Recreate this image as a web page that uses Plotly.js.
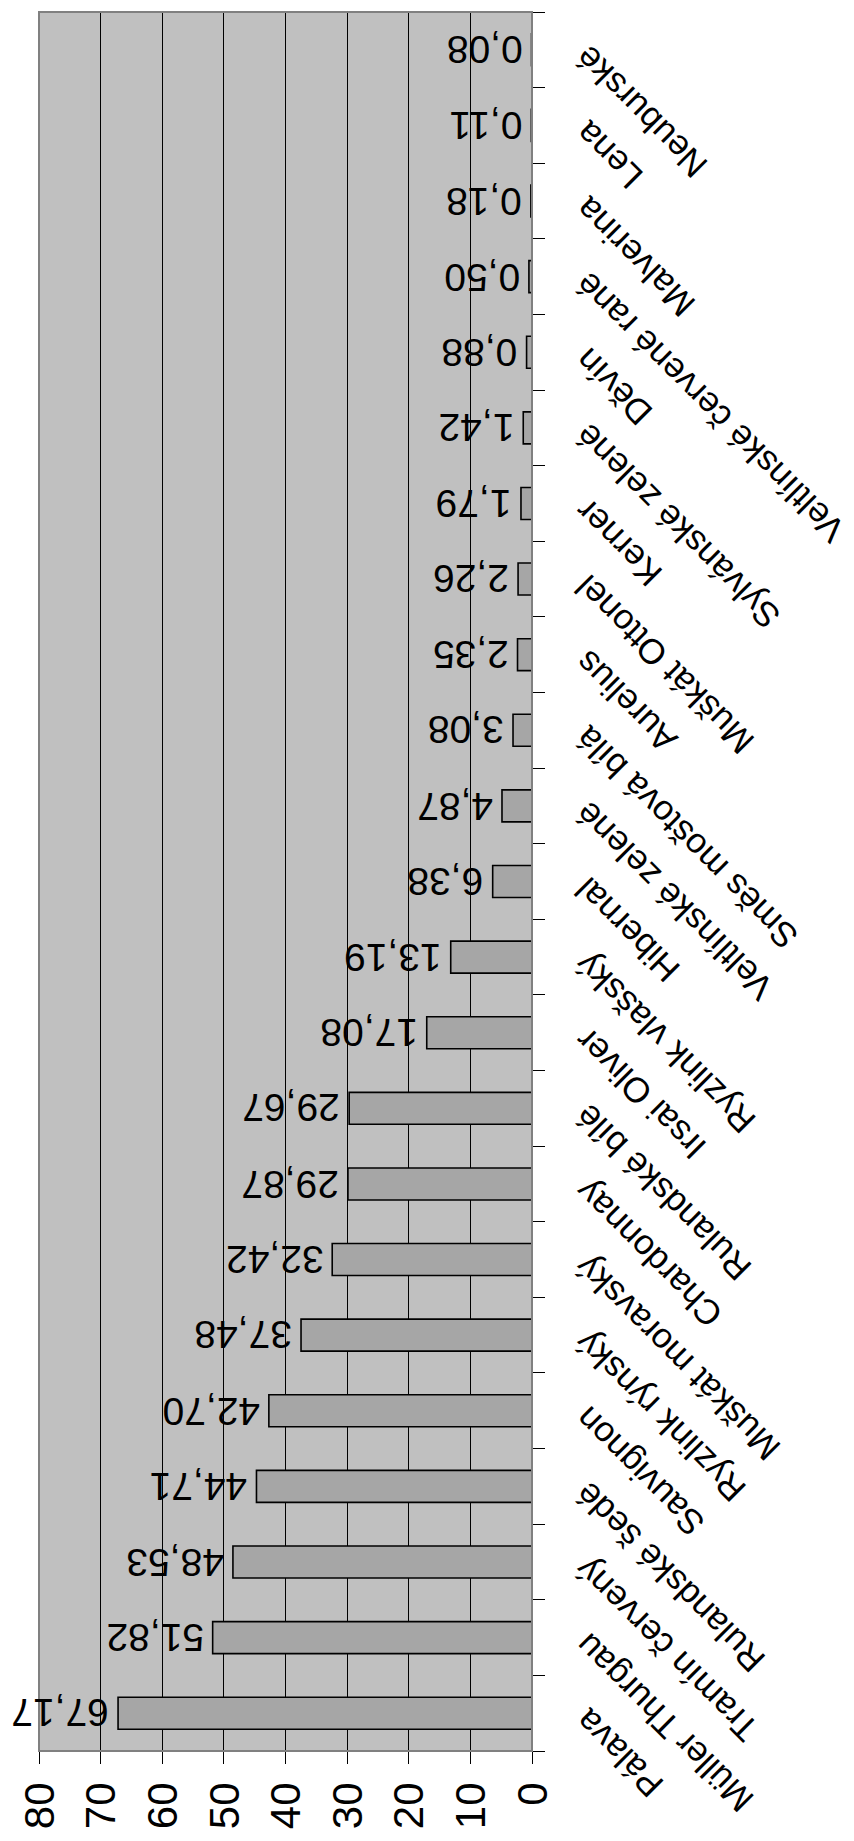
<!DOCTYPE html>
<html>
<head>
<meta charset="utf-8">
<script src="https://cdn.plot.ly/plotly-3.0.1.min.js"></script>
<style>
  html, body { margin: 0; padding: 0; background: #ffffff; overflow: hidden; }
  #wrap { position: relative; width: 854px; height: 1841px; overflow: hidden; }
  #chart {
    position: absolute; left: 0; top: 0;
    width: 1841px; height: 854px;
    transform-origin: 0 0;
    transform: translateY(1841px) rotate(-90deg);
  }
</style>
</head>
<body>
<div id="wrap"><div id="chart"></div></div>
<script>
// Odrůdy (categories), in order from the first bar (bottom) to the last (top)
var categories = [
  "Pálava", "Müller Thurgau", "Tramín červený", "Rulandské šedé", "Sauvignon",
  "Ryzlink rýnský", "Muškát moravský", "Chardonnay", "Rulandské bílé", "Irsai Oliver",
  "Ryzlink vlašský", "Hibernal", "Veltlínské zelené", "Směs moštová bílá", "Aurelius",
  "Muškát Ottonel", "Kerner", "Sylvánské zelené", "Děvín", "Veltlínské červené rané",
  "Malverina", "Lena", "Neuburské"
];
var values = [
  67.17, 51.82, 48.53, 44.71, 42.70,
  37.48, 32.42, 29.87, 29.67, 17.08,
  13.19, 6.38, 4.87, 3.08, 2.35,
  2.26, 1.79, 1.42, 0.88, 0.50,
  0.18, 0.11, 0.08
];
var valueTicks = [0, 10, 20, 30, 40, 50, 60, 70, 80];

var FONT = "'Liberation Sans', Arial, sans-serif";

function fmt(v) { return v.toFixed(2).replace(".", ","); }

var trace = {
  type: "bar",
  x: categories,
  y: values,
  marker: { color: "#a6a6a6", line: { color: "#000000", width: 1.6 } },
  hoverinfo: "none"
};

var labels = categories.map(function (c, i) {
  return {
    x: c, y: values[i], xref: "x", yref: "y",
    text: fmt(values[i]),
    showarrow: false,
    textangle: -90,
    xanchor: "center", yanchor: "bottom",
    yshift: 7,
    font: { family: FONT, size: 39, color: "#000000" }
  };
});

var layout = {
  width: 1841,
  height: 854,
  margin: { l: 90, r: 12, t: 39, b: 322 },
  paper_bgcolor: "#ffffff",
  plot_bgcolor: "#c0c0c0",
  separators: ", ",
  bargap: 0.577,
  showlegend: false,
  font: { family: FONT, color: "#000000" },
  xaxis: {
    type: "category",
    tickangle: -45,
    ticks: "outside",
    ticklen: 12,
    tickwidth: 1,
    tickcolor: "#000000",
    tickson: "boundaries",
    ticklabelstandoff: 20,
    ticklabelshift: -6,
    showline: true,
    linecolor: "#000000",
    linewidth: 1,
    showgrid: false,
    tickfont: { family: FONT, size: 35, color: "#000000" },
    fixedrange: true
  },
  yaxis: {
    range: [0, 80],
    tickvals: valueTicks,
    ticktext: valueTicks.map(String),
    ticks: "outside",
    ticklen: 12,
    tickwidth: 1,
    tickcolor: "#000000",
    ticklabelstandoff: 10,
    showline: true,
    linecolor: "#000000",
    linewidth: 1,
    showgrid: true,
    gridcolor: "#000000",
    gridwidth: 1,
    zeroline: false,
    tickfont: { family: FONT, size: 42, color: "#000000" },
    fixedrange: true
  },
  annotations: labels,
  shapes: [{
    type: "rect", xref: "paper", yref: "paper",
    x0: 0, x1: 1, y0: 0, y1: 1,
    line: { color: "#808080", width: 2 },
    layer: "above"
  }]
};

Plotly.newPlot("chart", [trace], layout, { staticPlot: true, displayModeBar: false });
</script>
</body>
</html>
